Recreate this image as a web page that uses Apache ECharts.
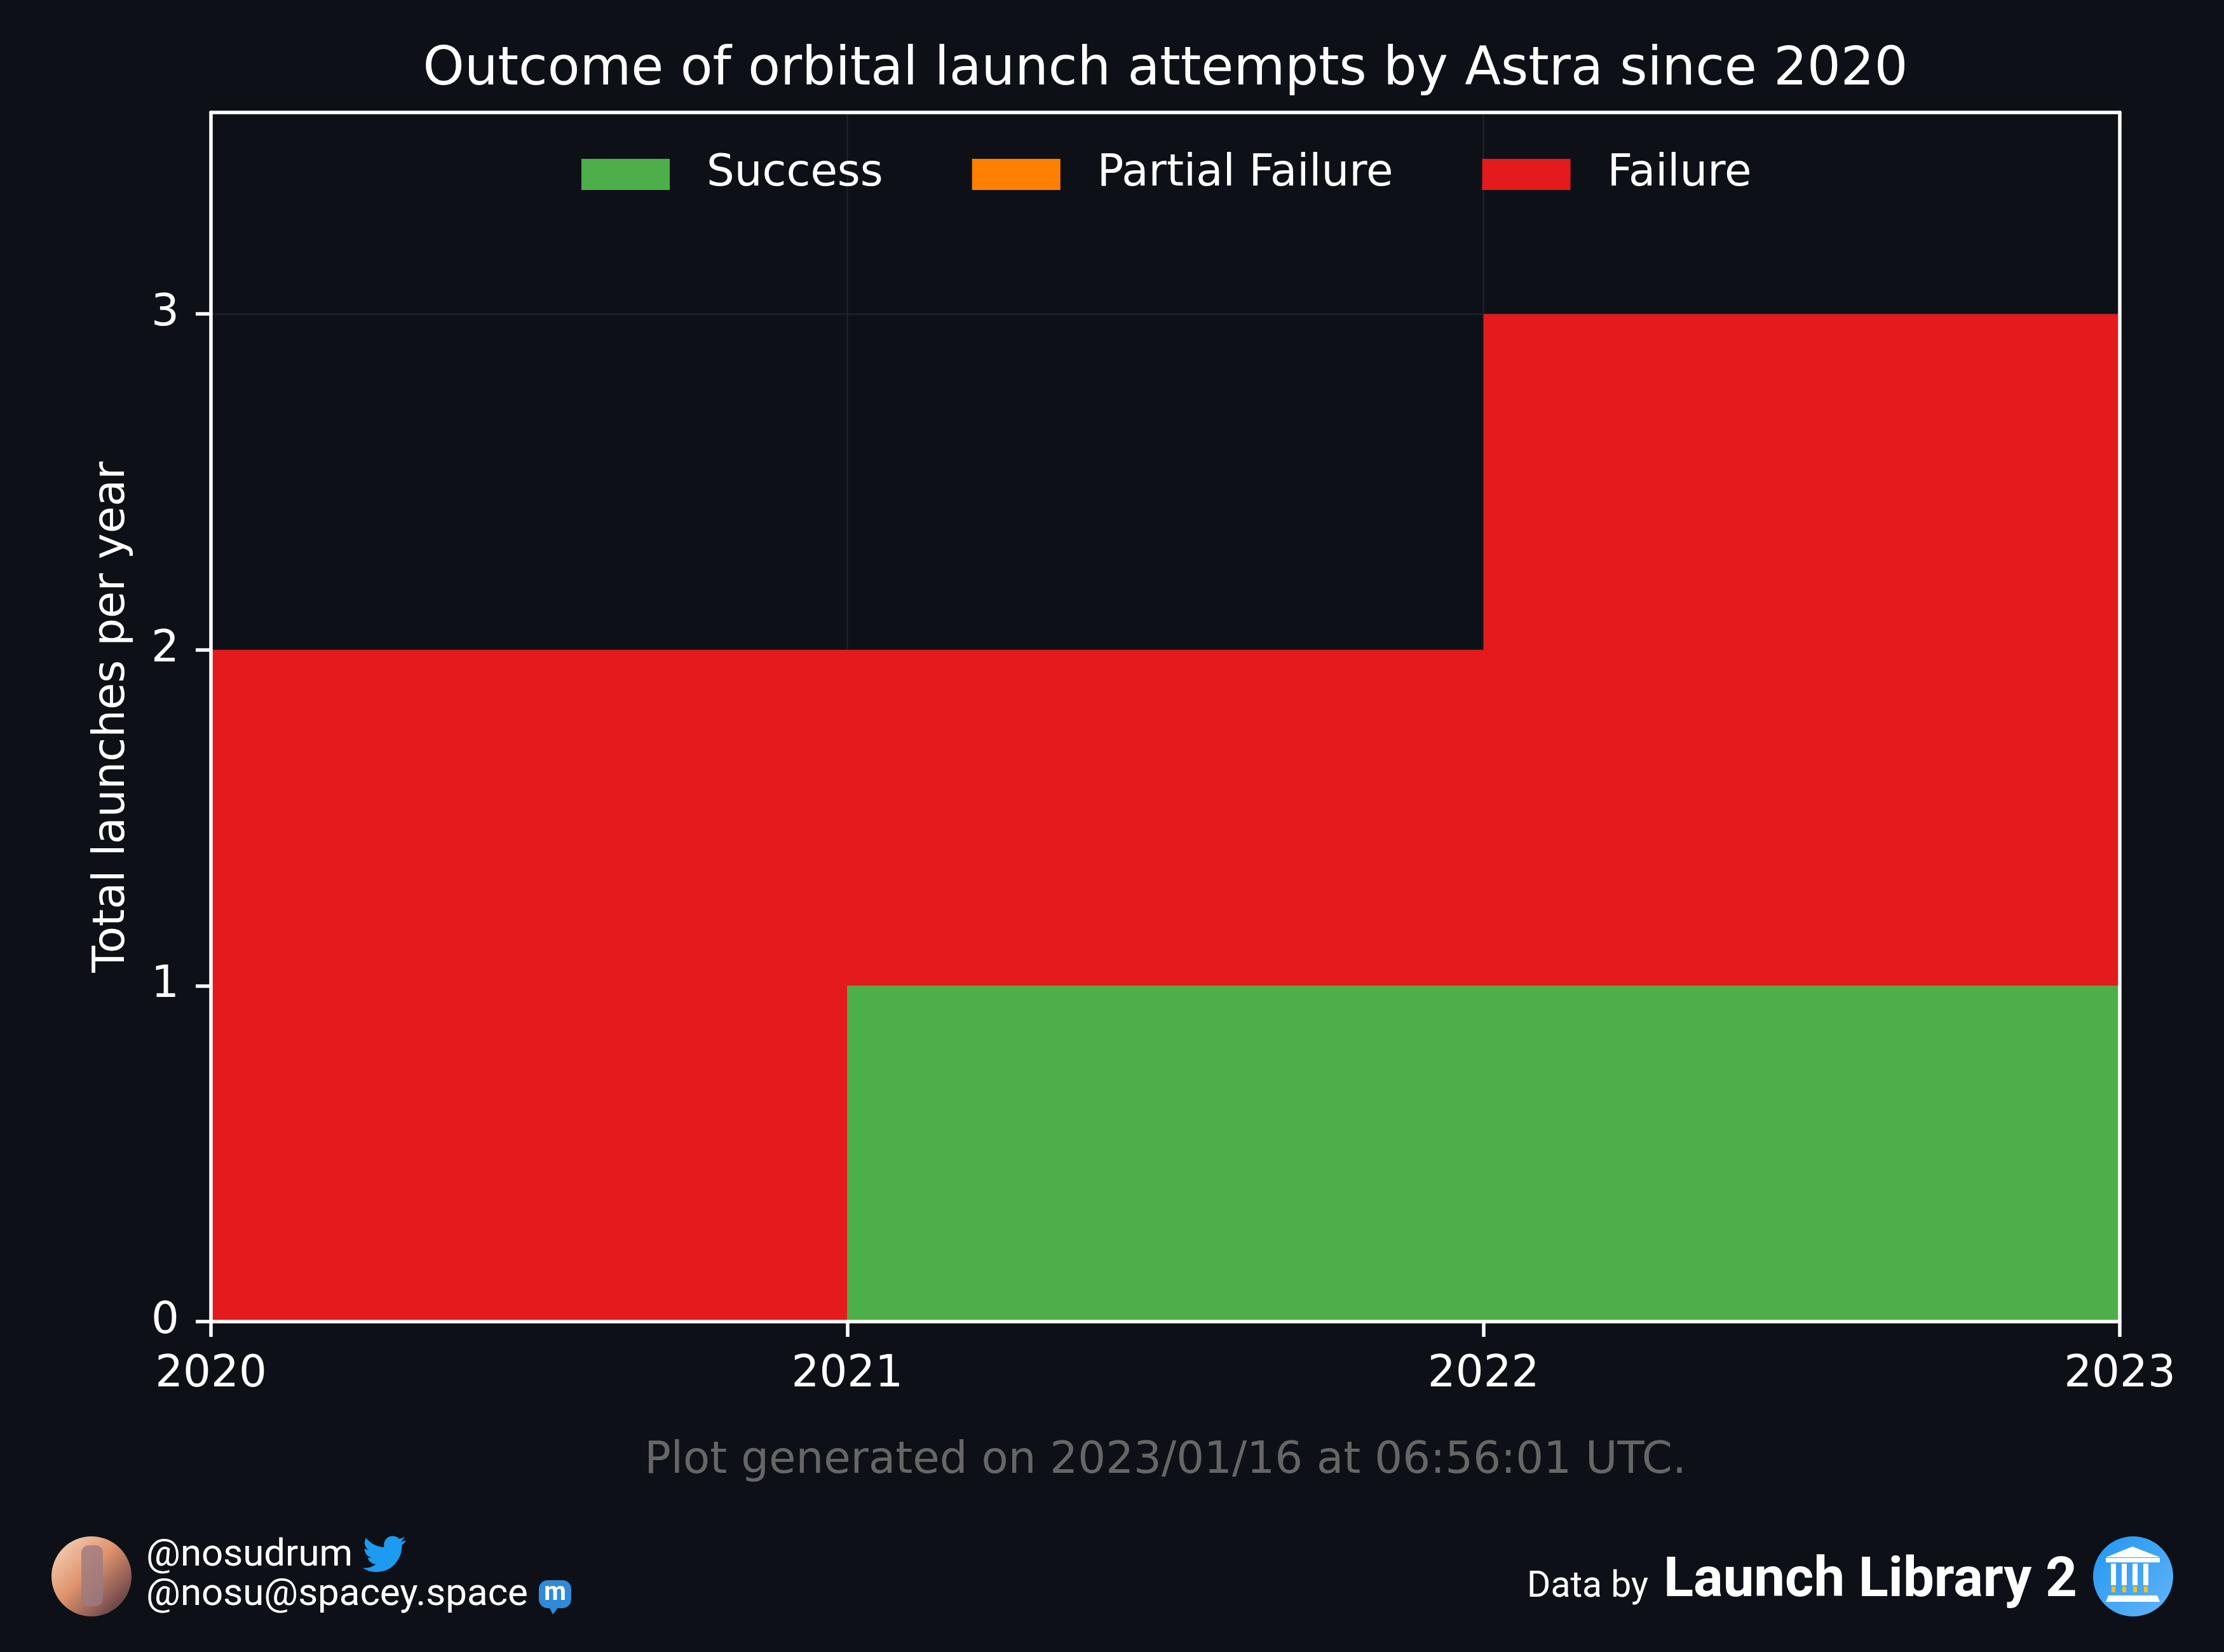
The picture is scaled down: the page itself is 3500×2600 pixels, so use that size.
<!DOCTYPE html>
<html>
<head>
<meta charset="utf-8">
<style>
  html, body { margin: 0; background: #0d1117; }
  #chart { width: 3500px; height: 2600px; }
</style>
<script src="https://cdn.jsdelivr.net/npm/echarts@6/dist/echarts.min.js"></script>
</head>
<body>
<div id="chart"></div>
<script>
// year bin edges, one value per bin (step 'post')
const years = [2020, 2021, 2022, 2023];
const success = [0, 1, 1];
const partialFailure = [0, 0, 0];
const failure = [2, 1, 2];
const yTicks = [0, 1, 2, 3];
const seriesNames = ['Success', 'Partial Failure', 'Failure'];
const seriesColors = ['#4daf4a', '#ff7f00', '#e41a1c'];

const bg = '#0d1117';
const gridColor = '#1c2129';
const font = 'DejaVu Sans';

// twitter bird, 24x24 box
const birdPath = 'M23.953 4.57 L21.128 5.345 L23.291 2.622 C22.34 3.177 21.286 3.581 20.164 3.806 ' +
  'C18.5 2.0 15.4 1.6 13.3 3.4 C11.9 4.6 11.4 6.5 11.78 8.288 ' +
  'C7.69 8.095 4.067 6.13 1.64 3.162 L0.974 5.637 C0.974 7.347 1.844 8.85 3.162 9.733 ' +
  'L0.934 9.117 L0.934 9.177 C0.934 11.6 2.634 13.6 4.88 14.004 L2.668 14.089 ' +
  'C3.318 16.089 5.168 17.489 7.272 17.506 C5.572 18.806 3.472 19.606 1.17 19.611 ' +
  'C0.78 19.611 0.391 19.588 0 19.544 C2.2 20.944 4.8 21.753 7.557 21.753 ' +
  'C16.61 21.753 21.555 14.257 21.555 7.768 C21.555 7.558 21.555 7.348 21.54 7.138 ' +
  'C22.5 6.4 23.4 5.5 23.953 4.57 Z';
echarts.graphic.registerShape('bird', echarts.graphic.extendPath(birdPath, {}));

const chart = echarts.init(document.getElementById('chart'));

// cumulative totals (stackplot), bottom layer first
const layers = [success, partialFailure, failure];
const cumulative = [];
layers.forEach((vals, k) => {
  cumulative.push(vals.map((v, i) => v + (k ? cumulative[k - 1][i] : 0)));
});

// repeat the last bin's value at the closing edge so the step reaches 2023
function stepData(vals) {
  return years.map((y, i) => [y, vals[Math.min(i, vals.length - 1)]]);
}

function areaSeries(k) {
  const color = seriesColors[k];
  return {
    name: seriesNames[k],
    type: 'line',
    step: 'end',
    data: stepData(cumulative[k]),
    symbol: 'none',
    showSymbol: false,
    lineStyle: { width: 0 },
    itemStyle: { color: color },
    areaStyle: { color: color, opacity: 1, origin: 'start' },
    silent: true,
    z: 2
  };
}

const frameLine = { show: true, onZero: false, lineStyle: { color: '#ffffff', width: 5.5 } };
const xBase = { type: 'value', min: years[0], max: years[years.length - 1], interval: 1 };
const yBase = { type: 'value', min: 0, max: 3.6, interval: 1 };

var option = {
  backgroundColor: bg,
  animation: false,
  grid: { left: 332, right: 164, top: 177, bottom: 520, containLabel: false },
  legend: {
    data: seriesNames,
    left: 915,
    top: 240,
    padding: 0,
    itemWidth: 139,
    itemHeight: 49,
    itemGap: 140,
    icon: 'rect',
    selectedMode: false,
    itemStyle: { borderWidth: 0 },
    textStyle: { color: '#ffffff', fontSize: 69, fontFamily: font, padding: [0, 0, 0, 53] }
  },
  xAxis: [
    Object.assign({}, xBase, {
      position: 'bottom',
      axisLine: { show: false }, axisTick: { show: false }, axisLabel: { show: false },
      splitLine: { show: true, lineStyle: { color: gridColor, width: 2.5 } }
    }),
    Object.assign({}, xBase, {
      position: 'bottom', z: 10,
      axisLine: frameLine,
      axisTick: { show: true, length: 24, lineStyle: { color: '#ffffff', width: 5.5 } },
      axisLabel: { color: '#ffffff', fontSize: 69, fontFamily: font, margin: 50, formatter: v => String(v) },
      splitLine: { show: false }
    }),
    Object.assign({}, xBase, {
      position: 'top', z: 10,
      axisLine: frameLine, axisTick: { show: false }, axisLabel: { show: false },
      splitLine: { show: false }
    })
  ],
  yAxis: [
    Object.assign({}, yBase, {
      position: 'left',
      axisLine: { show: false }, axisTick: { show: false }, axisLabel: { show: false },
      splitLine: { show: true, lineStyle: { color: gridColor, width: 2.5 } }
    }),
    Object.assign({}, yBase, {
      position: 'left', z: 10,
      name: 'Total launches per year',
      nameLocation: 'middle',
      nameGap: 120,
      nameTextStyle: { color: '#ffffff', fontSize: 69, fontFamily: font },
      axisLine: frameLine,
      axisTick: { show: true, length: 24, customValues: yTicks, lineStyle: { color: '#ffffff', width: 5.5 } },
      axisLabel: { color: '#ffffff', fontSize: 69, fontFamily: font, margin: 50, customValues: yTicks },
      splitLine: { show: false }
    }),
    Object.assign({}, yBase, {
      position: 'right', z: 10,
      axisLine: frameLine, axisTick: { show: false }, axisLabel: { show: false },
      splitLine: { show: false }
    })
  ],
  // top layer drawn first so the lower layers paint over it
  series: [areaSeries(2), areaSeries(1), areaSeries(0)],
  graphic: [
    {
      type: 'text', x: 1834, y: 111,
      style: { text: 'Outcome of orbital launch attempts by Astra since 2020', fill: '#ffffff',
               font: '83px "DejaVu Sans"', textAlign: 'center', textVerticalAlign: 'middle' }
    },
    {
      type: 'text', x: 1834, y: 2300,
      style: { text: 'Plot generated on 2023/01/16 at 06:56:01 UTC.', fill: '#666666',
               font: '69px "DejaVu Sans"', textAlign: 'center', textVerticalAlign: 'middle' }
    },
    // avatar
    {
      type: 'circle', shape: { cx: 144, cy: 2481, r: 63 },
      style: {
        fill: new echarts.graphic.LinearGradient(0, 0, 1, 1, [
          { offset: 0, color: '#f7dcc4' },
          { offset: 0.45, color: '#e0936c' },
          { offset: 0.75, color: '#8a5a55' },
          { offset: 1, color: '#3a2c33' }
        ])
      }
    },
    {
      type: 'rect', shape: { x: 128, y: 2432, width: 34, height: 96, r: 12 },
      style: { fill: '#9c7a80', opacity: 0.8 }
    },
    {
      type: 'text', x: 230, y: 2449,
      style: { text: '@nosudrum', fill: '#ffffff', font: '60px Roboto', textVerticalAlign: 'middle' }
    },
    {
      type: 'text', x: 230, y: 2511,
      style: { text: '@nosu@spacey.space', fill: '#ffffff', font: '60px Roboto', textVerticalAlign: 'middle' }
    },
    // twitter bird
    {
      type: 'bird', x: 571, y: 2411, scaleX: 2.85, scaleY: 2.9,
      style: { fill: '#1d9bf0' }
    },
    // mastodon badge
    {
      type: 'rect', shape: { x: 848, y: 2487, width: 51, height: 44, r: 14 },
      style: { fill: '#2f8ad8' }
    },
    {
      type: 'polygon', shape: { points: [[862, 2525], [880, 2528], [870, 2541]] },
      style: { fill: '#2f8ad8' }
    },
    {
      type: 'text', x: 873.5, y: 2508,
      style: { text: 'm', fill: '#ffffff', font: 'bold 40px Roboto', textAlign: 'center', textVerticalAlign: 'middle' }
    },
    // data credit
    {
      type: 'text', x: 2403, y: 2499,
      style: { text: 'Data by', fill: '#ffffff', font: '57px Roboto', textVerticalAlign: 'middle' }
    },
    {
      type: 'text', x: 2618, y: 2490,
      style: { text: 'Launch Library 2', fill: '#ffffff', font: 'bold 87px Roboto', textVerticalAlign: 'middle' }
    },
    // launch library logo
    {
      type: 'circle', shape: { cx: 3357, cy: 2481, r: 63 },
      style: {
        fill: new echarts.graphic.LinearGradient(0, 0, 1, 1, [
          { offset: 0, color: '#2196f3' },
          { offset: 1, color: '#64b5f6' }
        ])
      }
    },
    {
      type: 'polygon', shape: { points: [[3314, 2451], [3356, 2434], [3399, 2451]] },
      style: { fill: '#ffffff' }
    },
    {
      type: 'rect', shape: { x: 3314, y: 2452, width: 85, height: 7 },
      style: { fill: '#ffffff' }
    },
    { type: 'rect', shape: { x: 3322, y: 2461, width: 8, height: 34 }, style: { fill: '#ffffff' } },
    { type: 'rect', shape: { x: 3339, y: 2461, width: 8, height: 34 }, style: { fill: '#ffffff' } },
    { type: 'rect', shape: { x: 3356, y: 2461, width: 8, height: 34 }, style: { fill: '#ffffff' } },
    { type: 'rect', shape: { x: 3373, y: 2461, width: 8, height: 34 }, style: { fill: '#ffffff' } },
    { type: 'rect', shape: { x: 3323, y: 2497, width: 6, height: 9 }, style: { fill: '#ffc107' } },
    { type: 'rect', shape: { x: 3340, y: 2497, width: 6, height: 9 }, style: { fill: '#ffc107' } },
    { type: 'rect', shape: { x: 3357, y: 2497, width: 6, height: 9 }, style: { fill: '#ffc107' } },
    { type: 'rect', shape: { x: 3374, y: 2497, width: 6, height: 9 }, style: { fill: '#ffc107' } },
    {
      type: 'polygon', shape: { points: [[3318, 2511], [3395, 2511], [3399, 2521], [3314, 2521]] },
      style: { fill: '#ffffff' }
    }
  ]
};

option && chart.setOption(option);
</script>
</body>
</html>
